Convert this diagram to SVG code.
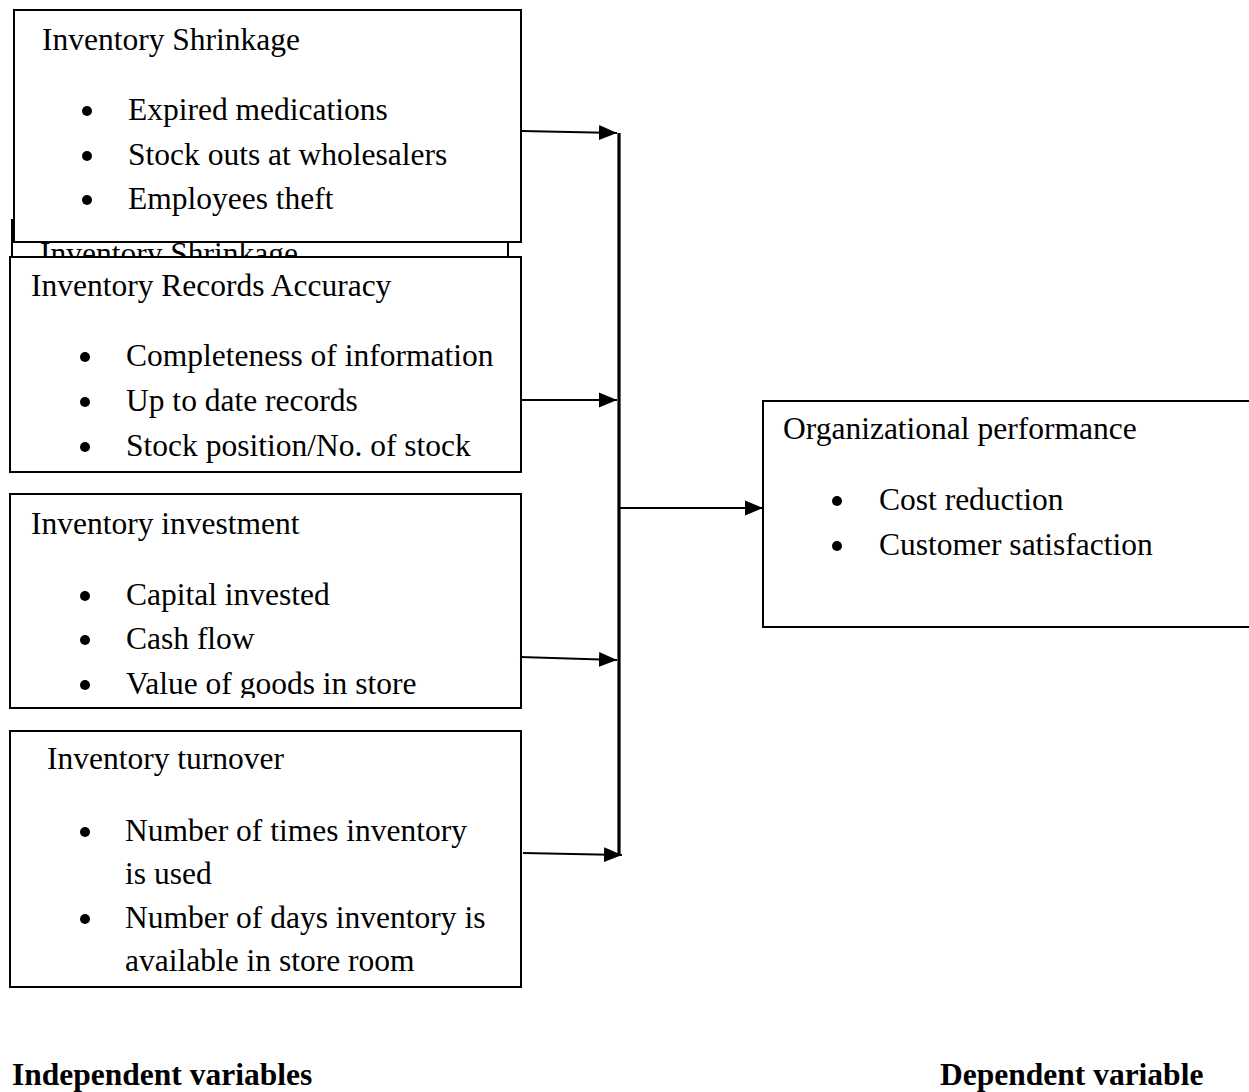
<svg xmlns="http://www.w3.org/2000/svg" width="1249" height="1092" viewBox="0 0 1249 1092">
<defs>
<style>
.box{fill:#fff;stroke:#000;stroke-width:2}
.t{font-family:"Liberation Serif","Times New Roman",serif;font-size:31.5px;fill:#000}
.b{font-family:"Liberation Serif","Times New Roman",serif;font-size:31.5px;font-weight:bold;fill:#000}
.c{stroke:#000;stroke-width:2.2;fill:none}
.dot{fill:#000}
</style>
<marker id="ah" markerUnits="userSpaceOnUse" markerWidth="18" markerHeight="16" viewBox="0 0 18 16" refX="18" refY="8" orient="auto">
<path d="M0,0.5 L18,8 L0,15.5 Z" fill="#000"/>
</marker>
<clipPath id="clipBack"><rect x="12" y="242" width="496" height="15"/></clipPath>
<clipPath id="clipInv"><rect x="10" y="494" width="511" height="204"/></clipPath>
</defs>

<g id="node-shrinkage-back">
<rect class="box" x="12" y="220" width="496" height="250"/>
<text class="t" x="40" y="264" clip-path="url(#clipBack)">Inventory Shrinkage</text>
</g>

<g id="node-shrinkage">
<rect class="box" x="14" y="10" width="507" height="232"/>
<text class="t" x="42" y="50">Inventory Shrinkage</text>
<circle class="dot" cx="87" cy="111" r="5"/><text class="t" x="128" y="120">Expired medications</text>
<circle class="dot" cx="87" cy="156" r="5"/><text class="t" x="128" y="165">Stock outs at wholesalers</text>
<circle class="dot" cx="87" cy="200" r="5"/><text class="t" x="128" y="209">Employees theft</text>
</g>

<g id="node-records">
<rect class="box" x="10" y="257" width="511" height="215"/>
<text class="t" x="31" y="296">Inventory Records Accuracy</text>
<circle class="dot" cx="85" cy="357" r="5"/><text class="t" x="126" y="366">Completeness of information</text>
<circle class="dot" cx="85" cy="402" r="5"/><text class="t" x="126" y="411">Up to date records</text>
<circle class="dot" cx="85" cy="447" r="5"/><text class="t" x="126" y="456">Stock position/No. of stock</text>
</g>

<g id="node-investment">
<rect class="box" x="10" y="494" width="511" height="214"/>
<g clip-path="url(#clipInv)">
<text class="t" x="31" y="534">Inventory investment</text>
<circle class="dot" cx="85" cy="596" r="5"/><text class="t" x="126" y="605">Capital invested</text>
<circle class="dot" cx="85" cy="640" r="5"/><text class="t" x="126" y="649">Cash flow</text>
<circle class="dot" cx="85" cy="685" r="5"/><text class="t" x="126" y="694">Value of goods in store</text>
</g>
</g>

<g id="node-turnover">
<rect class="box" x="10" y="731" width="511" height="256"/>
<text class="t" x="47" y="769">Inventory turnover</text>
<circle class="dot" cx="85" cy="832" r="5"/><text class="t" x="125" y="841">Number of times inventory</text>
<text class="t" x="125" y="884">is used</text>
<circle class="dot" cx="85" cy="919" r="5"/><text class="t" x="125" y="928">Number of days inventory is</text>
<text class="t" x="125" y="971">available in store room</text>
</g>

<g id="node-performance">
<rect class="box" x="763" y="401" width="490" height="226"/>
<text class="t" x="783" y="439">Organizational performance</text>
<circle class="dot" cx="837" cy="501" r="5"/><text class="t" x="879" y="510">Cost reduction</text>
<circle class="dot" cx="837" cy="546" r="5"/><text class="t" x="879" y="555">Customer satisfaction</text>
</g>

<g id="connectors">
<line x1="619" y1="133" x2="619" y2="856" stroke="#000" stroke-width="3.2"/>
<line class="c" x1="522" y1="131" x2="617" y2="133" marker-end="url(#ah)"/>
<line class="c" x1="522" y1="400" x2="617" y2="400" marker-end="url(#ah)"/>
<line class="c" x1="520" y1="657" x2="617" y2="660" marker-end="url(#ah)"/>
<line class="c" x1="523" y1="853" x2="622" y2="855" marker-end="url(#ah)"/>
<line class="c" x1="620" y1="508" x2="763" y2="508" marker-end="url(#ah)"/>
</g>

<g id="labels">
<text class="b" x="12" y="1085">Independent variables</text>
<text class="b" x="940" y="1085">Dependent variable</text>
</g>
</svg>
